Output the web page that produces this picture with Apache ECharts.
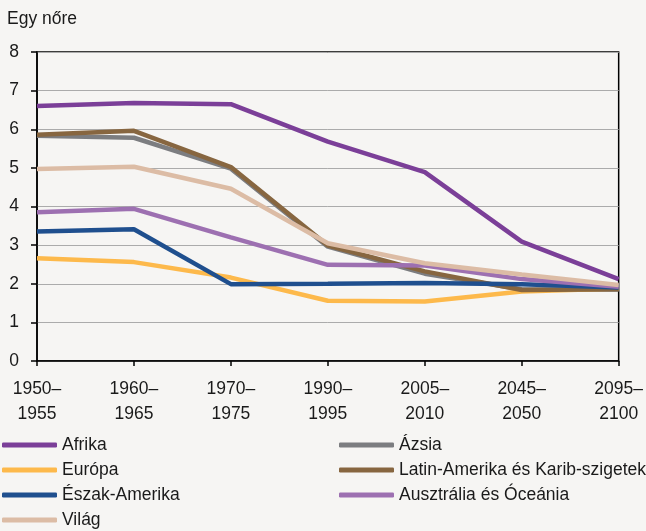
<!DOCTYPE html>
<html>
<head>
<meta charset="utf-8">
<script src="https://cdn.jsdelivr.net/npm/echarts@6/dist/echarts.min.js"></script>
<style>
  html, body { margin: 0; padding: 0; background: #f6f5f3; }
  #chart { width: 646px; height: 531px; }
</style>
</head>
<body>
<div id="chart"></div>
<script>
// Periods on the x axis
var periods = ['1950–\n1955', '1960–\n1965', '1970–\n1975', '1990–\n1995', '2005–\n2010', '2045–\n2050', '2095–\n2100'];

// Fertility per woman
var afrika = [6.60, 6.68, 6.65, 5.68, 4.89, 3.09, 2.12];
var azsia = [5.83, 5.78, 4.98, 2.96, 2.26, 1.86, 1.85];
var europa = [2.66, 2.56, 2.16, 1.56, 1.54, 1.80, 1.88];
var latinAmerika = [5.86, 5.96, 5.02, 2.99, 2.32, 1.84, 1.86];
var eszakAmerika = [3.35, 3.41, 1.99, 2.00, 2.02, 1.99, 1.90];
var ausztralia = [3.85, 3.94, 3.20, 2.49, 2.47, 2.12, 1.92];
var vilag = [4.97, 5.03, 4.46, 3.05, 2.53, 2.24, 1.97];

var font = '"Liberation Sans", Arial, sans-serif';
var textColor = '#1a1a1a';

var chart = echarts.init(document.getElementById('chart'));

function line(name, data, color) {
    return {
        name: name,
        type: 'line',
        data: data,
        symbol: 'none',
        lineStyle: { width: 4.5, color: color },
        itemStyle: { color: color },
        emphasis: { disabled: true }
    };
}

// legend column settings, shared by both columns
function legendColumn(left, names) {
    return {
        orient: 'vertical',
        left: left,
        top: 436,
        height: 95,
        padding: 0,
        icon: 'roundRect',
        itemWidth: 55,
        itemHeight: 5,
        itemGap: 7,
        textStyle: { fontFamily: font, fontSize: 17.5, color: textColor, lineHeight: 18 },
        data: names
    };
}

var option = {
    backgroundColor: '#f6f5f3',
    animation: false,
    textStyle: { fontFamily: font },
    grid: {
        left: 37,
        right: 27,
        top: 52,
        bottom: 170,
        show: true,
        borderColor: '#000',
        borderWidth: 1.5,
        backgroundColor: 'transparent'
    },
    legend: [
        legendColumn(2, ['Afrika', 'Európa', 'Észak-Amerika', 'Világ']),
        legendColumn(339, ['Ázsia', 'Latin-Amerika és Karib-szigetek', 'Ausztrália és Óceánia'])
    ],
    xAxis: {
        type: 'category',
        data: periods,
        boundaryGap: false,
        axisLine: { lineStyle: { color: '#000', width: 1.5 } },
        axisTick: { show: true, length: 5, lineStyle: { color: '#000', width: 1.5 } },
        axisLabel: {
            fontFamily: font,
            fontSize: 17.5,
            color: textColor,
            lineHeight: 25,
            margin: 16,
            interval: 0
        },
        splitLine: { show: false }
    },
    yAxis: {
        type: 'value',
        min: 0,
        max: 8,
        interval: 1,
        name: 'Egy nőre',
        nameLocation: 'end',
        nameGap: 24,
        nameTextStyle: { fontFamily: font, fontSize: 17.5, color: textColor, align: 'left', padding: [0, 0, 0, -30] },
        axisLine: { show: true, lineStyle: { color: '#000', width: 1.5 } },
        axisTick: { show: true, length: 6, lineStyle: { color: '#000', width: 1.5 } },
        axisLabel: { fontFamily: font, fontSize: 17.5, color: textColor, margin: 18 },
        splitLine: { show: true, lineStyle: { color: '#ababab', width: 1 } }
    },
    series: [
        line('Afrika', afrika, '#7b3f98'),
        line('Ázsia', azsia, '#7c7d80'),
        line('Európa', europa, '#fdb94b'),
        line('Latin-Amerika és Karib-szigetek', latinAmerika, '#876640'),
        line('Észak-Amerika', eszakAmerika, '#1f4f8e'),
        line('Ausztrália és Óceánia', ausztralia, '#9d70b1'),
        line('Világ', vilag, '#dcbca5')
    ]
};

chart.setOption(option);
</script>
</body>
</html>
